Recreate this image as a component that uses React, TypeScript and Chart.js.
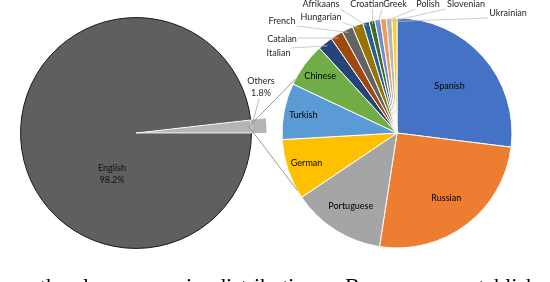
import React, { useEffect, useRef } from "react";
import { Chart, registerables } from "chart.js";

Chart.register(...registerables);

// ---------- data ----------
const mainCategories = ["English", "Others"];
const mainShares = [98.2, 1.8];
const mainShareText = ["98.2%", "1.8%"];

const otherLanguages = [
  "Spanish", "Russian", "Portuguese", "German", "Turkish", "Chinese",
  "Italian", "Catalan", "French", "Hungarian", "Afrikaans", "Croatian",
  "Greek", "Polish", "Slovenian", "Ukrainian",
];
const otherShares = [
  26.9, 25.4, 13.1, 8.5, 7.9, 6.2,
  2.1, 1.75, 1.6, 1.5, 0.9, 0.8,
  0.8, 0.8, 0.8, 0.7,
];

const captionWords = ["the", "language", "in", "distribution.", "Because", "we", "establish"];

// ---------- styles / layout ----------
const mainColors = ["#5f5f5f", "#b5b5b5"];
const otherColors = [
  "#4472C4", "#ED7D31", "#A5A5A5", "#FFC000", "#5B9BD5", "#70AD47",
  "#264478", "#9E480E", "#636363", "#997300", "#255E91", "#43682B",
  "#698ED0", "#F1975A", "#B7B7B7", "#FFCD33",
];
const FONT = "Lato, 'Open Sans', sans-serif";

const LEFT = { cx: 136, cy: 133, r: 115, ext: 15, canvasX: 0, w: 280, h: 282 };
const RIGHT = { cx: 397, cy: 133, r: 115, canvasX: 240, w: 310, h: 282 };
const LEFT_START = 90;

const INSIDE_FRAC: Record<string, number> = {
  Spanish: 0.61, Russian: 0.71, Portuguese: 0.75, German: 0.83, Turkish: 0.83, Chinese: 0.83,
};
const OUTSIDE_POS: Record<string, [number, number]> = {
  Italian: [-118.5, -80],
  Catalan: [-115, -94],
  French: [-115, -112],
  Hungarian: [-76, -115.5],
  Afrikaans: [-76, -129],
  Croatian: [-30, -129],
  Greek: [-2, -129],
  Polish: [31, -129],
  Slovenian: [69, -129],
  Ukrainian: [111, -120],
};
const LEFT_LABEL_POS: Record<string, [number, number]> = {
  English: [-24, 41],
  Others: [125, -46],
};
const CONNECTOR_ANGLES = [298, 240]; // degrees clockwise from top on the right pie
const CAPTION_X = [40, 83, 186, 215, 345, 425, 460];

function padFor(cx: number, cy: number, outer: number, canvasX: number, w: number, h: number) {
  const S = 2 * outer + 1;
  const left = cx - canvasX - S / 2;
  const top = cy - S / 2;
  return { left, top, right: w - left - S, bottom: h - top - S };
}

function nearestOnBox(px: number, py: number, l: number, t: number, r: number, b: number) {
  return [Math.min(Math.max(px, l), r), Math.min(Math.max(py, t), b)];
}

export default function App() {
  const leftRef = useRef<HTMLCanvasElement | null>(null);
  const rightRef = useRef<HTMLCanvasElement | null>(null);

  useEffect(() => {
    if (!leftRef.current || !rightRef.current) return;

    const leftLabels = {
      id: "leftLabels",
      afterDatasetsDraw(chart: any) {
        const ctx = chart.ctx;
        const meta = chart.getDatasetMeta(1);
        ctx.save();
        ctx.font = `9px ${FONT}`;
        ctx.textAlign = "center";
        ctx.textBaseline = "middle";
        meta.data.forEach((arc: any, i: number) => {
          const p = arc.getProps(["x", "y", "startAngle", "endAngle", "outerRadius"], true);
          const name = mainCategories[i];
          const [dx, dy] = LEFT_LABEL_POS[name];
          const tx = p.x + dx;
          const ty = p.y + dy;
          ctx.fillStyle = i === 0 ? "#111" : "#262626";
          ctx.fillText(name, tx, ty - 6);
          ctx.fillText(mainShareText[i], tx, ty + 6);
          if (i === 1) {
            const a = p.startAngle + 0.15 * (p.endAngle - p.startAngle);
            const ex = p.x + Math.cos(a) * (p.outerRadius + 2);
            const ey = p.y + Math.sin(a) * (p.outerRadius + 2);
            ctx.strokeStyle = "#a6a6a6";
            ctx.lineWidth = 0.8;
            ctx.beginPath();
            ctx.moveTo(tx - 2, ty + 12);
            ctx.lineTo(ex, ey);
            ctx.stroke();
          }
        });
        ctx.restore();
      },
    };

    const rightLabels = {
      id: "rightLabels",
      afterDatasetsDraw(chart: any) {
        const ctx = chart.ctx;
        const meta = chart.getDatasetMeta(0);
        ctx.save();
        ctx.font = `9px ${FONT}`;
        ctx.textAlign = "center";
        ctx.textBaseline = "middle";
        let cx = 0, cy = 0, R = 0;
        meta.data.forEach((arc: any, i: number) => {
          const p = arc.getProps(["x", "y", "startAngle", "endAngle", "outerRadius"], true);
          cx = p.x; cy = p.y; R = p.outerRadius;
          const mid = (p.startAngle + p.endAngle) / 2;
          const name = otherLanguages[i];
          if (INSIDE_FRAC[name] !== undefined) {
            const f = INSIDE_FRAC[name];
            ctx.fillStyle = "#000";
            ctx.fillText(name, p.x + Math.cos(mid) * R * f, p.y + Math.sin(mid) * R * f);
          } else {
            const [dx, dy] = OUTSIDE_POS[name];
            const tx = p.x + dx;
            const ty = p.y + dy;
            const w = ctx.measureText(name).width;
            const ax = p.x + Math.cos(mid) * R * 0.97;
            const ay = p.y + Math.sin(mid) * R * 0.97;
            const [bx, by] = nearestOnBox(ax, ay, tx - w / 2 - 1, ty - 5, tx + w / 2 + 1, ty + 5);
            ctx.strokeStyle = "#bfbfbf";
            ctx.lineWidth = 0.8;
            ctx.beginPath();
            ctx.moveTo(bx, by);
            ctx.lineTo(ax, ay);
            ctx.stroke();
            ctx.fillStyle = "#262626";
            ctx.fillText(name, tx, ty);
          }
        });
        // connector lines from the "Others" slice of the left pie
        const total = mainShares[0] + mainShares[1];
        const othersMid = ((LEFT_START + 360 * (mainShares[0] + mainShares[1] / 2) / total) - 90) * Math.PI / 180;
        const sx = LEFT.cx - RIGHT.canvasX + Math.cos(othersMid) * (LEFT.r - 2);
        const sy = LEFT.cy + Math.sin(othersMid) * (LEFT.r - 2);
        ctx.strokeStyle = "#7f7f7f";
        ctx.lineWidth = 0.8;
        CONNECTOR_ANGLES.forEach((deg) => {
          const a = (deg - 90) * Math.PI / 180;
          ctx.beginPath();
          ctx.moveTo(sx, sy);
          ctx.lineTo(cx + Math.cos(a) * R, cy + Math.sin(a) * R);
          ctx.stroke();
        });
        ctx.restore();
      },
    };

    const leftChart = new Chart(leftRef.current, {
      type: "pie",
      data: {
        labels: mainCategories,
        datasets: [
          {
            data: mainShares,
            backgroundColor: ["rgba(0,0,0,0)", mainColors[1]],
            borderWidth: 0,
            weight: LEFT.ext,
          } as any,
          {
            data: mainShares,
            backgroundColor: mainColors,
            borderColor: ["#1a1a1a", "#ffffff"],
            borderWidth: 1,
            weight: LEFT.r,
          } as any,
        ],
      },
      options: {
        responsive: false,
        animation: false,
        events: [],
        rotation: LEFT_START,
        layout: { padding: padFor(LEFT.cx, LEFT.cy, LEFT.r + LEFT.ext, LEFT.canvasX, LEFT.w, LEFT.h) },
        plugins: { legend: { display: false }, tooltip: { enabled: false } },
      } as any,
      plugins: [leftLabels],
    });

    const rightChart = new Chart(rightRef.current, {
      type: "pie",
      data: {
        labels: otherLanguages,
        datasets: [
          {
            data: otherShares,
            backgroundColor: otherColors,
            borderColor: "#ffffff",
            borderWidth: 1,
          },
        ],
      },
      options: {
        responsive: false,
        animation: false,
        events: [],
        rotation: 0,
        layout: { padding: padFor(RIGHT.cx, RIGHT.cy, RIGHT.r, RIGHT.canvasX, RIGHT.w, RIGHT.h) },
        plugins: { legend: { display: false }, tooltip: { enabled: false } },
      } as any,
      plugins: [rightLabels],
    });

    return () => {
      leftChart.destroy();
      rightChart.destroy();
    };
  }, []);

  return (
    <div
      style={{
        position: "fixed",
        left: 0,
        top: 0,
        width: 550,
        height: 282,
        overflow: "hidden",
        background: "#fff",
      }}
    >
      <canvas
        ref={leftRef}
        width={LEFT.w}
        height={LEFT.h}
        style={{ position: "absolute", left: LEFT.canvasX, top: 0, width: LEFT.w, height: LEFT.h }}
      />
      <canvas
        ref={rightRef}
        width={RIGHT.w}
        height={RIGHT.h}
        style={{ position: "absolute", left: RIGHT.canvasX, top: 0, width: RIGHT.w, height: RIGHT.h }}
      />
      {captionWords.map((w, i) => (
        <span
          key={i}
          style={{
            position: "absolute",
            left: CAPTION_X[i],
            top: 275,
            fontFamily: "'Liberation Serif', 'DejaVu Serif', serif",
            fontSize: 22,
            lineHeight: "22px",
            color: "#000",
            whiteSpace: "nowrap",
          }}
        >
          {w}
        </span>
      ))}
    </div>
  );
}
